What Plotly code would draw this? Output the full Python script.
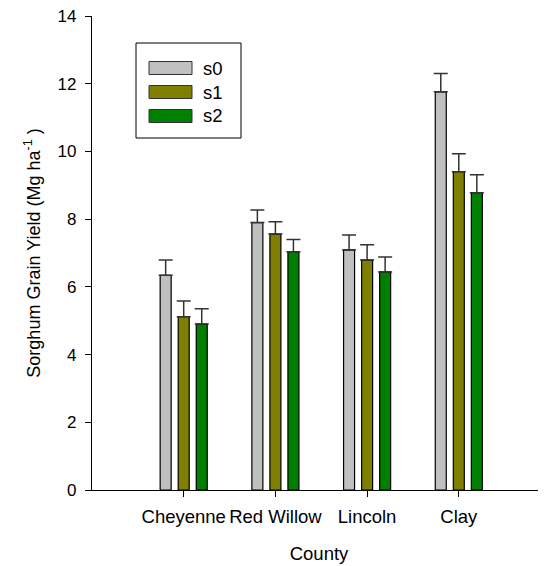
import plotly.graph_objects as go

counties = ["Cheyenne", "Red Willow", "Lincoln", "Clay"]
series_names = ["s0", "s1", "s2"]
s0_values = [6.34, 7.90, 7.09, 11.76]
s1_values = [5.12, 7.56, 6.79, 9.40]
s2_values = [4.90, 7.04, 6.44, 8.78]
s0_err = [0.45, 0.37, 0.44, 0.54]
s1_err = [0.46, 0.36, 0.45, 0.53]
s2_err = [0.45, 0.36, 0.44, 0.53]
y_ticks = [0, 2, 4, 6, 8, 10, 12, 14]

colors = ["#C0C0C0", "#808000", "#008000"]
values = [s0_values, s1_values, s2_values]
errs = [s0_err, s1_err, s2_err]

x_pos = [1, 2, 3, 4]
FONT = "Liberation Sans, Arial, sans-serif"

# page body has an 8px margin: figure sits at (8, 8) in the window
OFF = 8
FIG_W, FIG_H = 546 - OFF, 566 - OFF

fig = go.Figure()
for name, vals, err, col in zip(series_names, values, errs, colors):
    fig.add_trace(go.Bar(
        x=x_pos, y=vals, name=name,
        marker=dict(color=col, line=dict(color="black", width=1.2)),
        error_y=dict(type="data", symmetric=False, array=err,
                     arrayminus=[0] * len(err), color="#333333",
                     thickness=1.5, width=7),
        showlegend=False,
    ))

# plot area in window pixels
L, R, T, B = 92, 546, 16, 490
W, H = R - L, B - T


def px(x):
    return (x - L) / W


def py(y):
    return (B - y) / H


shapes = [dict(type="rect", xref="paper", yref="paper",
               x0=px(136), x1=px(241), y0=py(138), y1=py(43),
               line=dict(color="black", width=1), fillcolor="white")]
annotations = []
rows = [68, 92, 116]
for name, col, ry in zip(series_names, colors, rows):
    shapes.append(dict(type="rect", xref="paper", yref="paper",
                       x0=px(149), x1=px(192), y0=py(ry + 6.5), y1=py(ry - 6.5),
                       line=dict(color="#333333", width=1), fillcolor=col))
    annotations.append(dict(xref="paper", yref="paper", x=px(201), y=py(ry),
                            text=name, showarrow=False, xanchor="left",
                            yanchor="middle",
                            font=dict(family=FONT, size=18.5, color="black")))

fig.update_layout(
    width=FIG_W, height=FIG_H,
    margin=dict(l=L - OFF, r=546 - R, t=T - OFF, b=566 - B, autoexpand=False),
    paper_bgcolor="white", plot_bgcolor="white",
    barmode="group", bargap=0.41, bargroupgap=0.39,
    font=dict(family=FONT, size=17, color="black"),
    shapes=shapes, annotations=annotations,
    xaxis=dict(range=[0, W / 91.7], tickvals=x_pos, ticktext=counties,
               showline=True, linecolor="black", linewidth=1.2,
               ticks="outside", ticklen=6, tickcolor="black",
               showgrid=False, zeroline=False,
               tickfont=dict(size=18.5), ticklabelstandoff=4,
               ticklabeloverflow="allow",
               title=dict(text="County", font=dict(size=18.5), standoff=20)),
    yaxis=dict(range=[0, 14], tickvals=y_ticks,
               showline=True, linecolor="black", linewidth=1.2,
               ticks="outside", ticklen=6, tickcolor="black",
               showgrid=False, zeroline=False,
               tickfont=dict(size=17), ticklabelstandoff=5,
               ticklabeloverflow="allow",
               title=dict(text="Sorghum Grain Yield (Mg ha<sup>-1</sup> )",
                          font=dict(size=18), standoff=12)),
)

fig.write_html("out.html")
